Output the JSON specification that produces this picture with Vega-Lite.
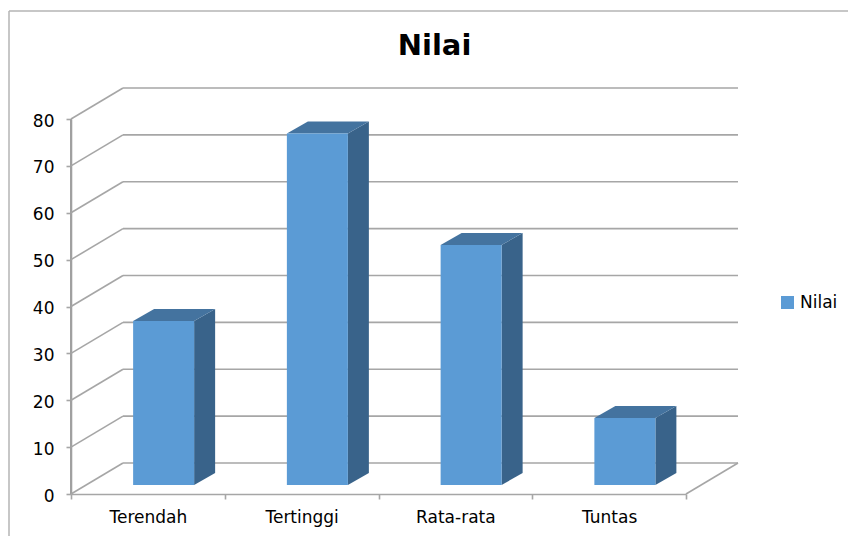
{
  "$schema": "https://vega.github.io/schema/vega-lite/v6.json",
  "width": 839,
  "height": 525,
  "padding": {"left": 9, "top": 11, "right": 0, "bottom": 0},
  "autosize": "none",
  "background": "white",
  "view": {"stroke": null},
  "title": {
    "text": "Nilai",
    "fontSize": 29,
    "fontWeight": "bold",
    "font": "DejaVu Sans",
    "color": "black",
    "anchor": "middle",
    "dx": 6,
    "offset": -51
  },
  "datasets": {
    "nilaiSiswa": [
      {"kategori": "Terendah", "nilai": 35},
      {"kategori": "Tertinggi", "nilai": 75},
      {"kategori": "Rata-rata", "nilai": 51.2},
      {"kategori": "Tuntas", "nilai": 14.3}
    ],
    "kisi": [
      {"nilai": 0}, {"nilai": 10}, {"nilai": 20}, {"nilai": 30}, {"nilai": 40},
      {"nilai": 50}, {"nilai": 60}, {"nilai": 70}, {"nilai": 80}
    ]
  },
  "resolve": {"scale": {"x": "independent"}},
  "layer": [
    {
      "layer": [
        {
          "data": {"values": [{}]},
          "mark": {"type": "rule", "color": "#b4b4b4", "strokeWidth": 1.5},
          "encoding": {"y": {"value": 0}}
        },
        {
          "data": {"values": [{}]},
          "mark": {"type": "rule", "color": "#b4b4b4", "strokeWidth": 1.5},
          "encoding": {"x": {"value": 0}}
        },
        {
          "description": "Back wall gridlines",
          "data": {"name": "kisi"},
          "mark": {"type": "rule", "color": "#a6a6a6", "strokeWidth": 1.6, "xOffset": 52, "x2Offset": 52, "yOffset": -31},
          "encoding": {
            "x": {"datum": 0, "type": "quantitative", "scale": {"domain": [0, 4], "range": [62, 677]}, "axis": null},
            "x2": {"datum": 4},
            "y": {"field": "nilai", "type": "quantitative", "scale": {"domain": [0, 80], "range": [483, 108]},
              "axis": {"title": null, "values": [0, 10, 20, 30, 40, 50, 60, 70, 80], "offset": -62, "grid": false, "domain": true,
                "domainColor": "#a6a6a6", "domainWidth": 1.6, "tickColor": "#a6a6a6", "tickWidth": 1.6, "tickSize": 5,
                "labelFont": "DejaVu Sans", "labelFontSize": 17, "labelColor": "black", "labelPadding": 12, "labelOffset": 2}}
          }
        },
        {
          "description": "Vertical axis line",
          "data": {"values": [{"bawah": 0, "atas": 80}]},
          "mark": {"type": "rule", "color": "#a0a0a0", "strokeWidth": 2},
          "encoding": {
            "x": {"datum": 0, "type": "quantitative"},
            "x2": {"datum": 0},
            "y": {"field": "bawah", "type": "quantitative"},
            "y2": {"field": "atas"}
          }
        },
        {
          "description": "Side wall gridlines running from the axis to the back wall",
          "data": {"name": "kisi"},
          "mark": {"type": "rule", "color": "#a6a6a6", "strokeWidth": 1.6, "x2Offset": 52, "y2Offset": -31},
          "encoding": {
            "x": {"datum": 0, "type": "quantitative"},
            "x2": {"datum": 0},
            "y": {"field": "nilai", "type": "quantitative"},
            "y2": {"field": "nilai"}
          }
        },
        {
          "description": "Right edge of the floor",
          "data": {"values": [{"nilai": 0}]},
          "mark": {"type": "rule", "color": "#a6a6a6", "strokeWidth": 1.6, "x2Offset": 52, "y2Offset": -31},
          "encoding": {
            "x": {"datum": 4, "type": "quantitative"},
            "x2": {"datum": 4},
            "y": {"field": "nilai", "type": "quantitative"},
            "y2": {"field": "nilai"}
          }
        },
        {
          "description": "Side face of each column, projected from its value",
          "data": {"name": "nilaiSiswa"},
          "transform": [
            {"window": [{"op": "row_number", "as": "urutan"}]},
            {"calculate": "[0, 1]", "as": "kedalaman"},
            {"flatten": ["kedalaman"]},
            {"calculate": "datum.urutan - 1 + 0.8008 + datum.kedalaman * 0.1366", "as": "xSisi"},
            {"calculate": "datum.nilai + 1.92 + datum.kedalaman * 2.56", "as": "atas"},
            {"calculate": "1.92 + datum.kedalaman * 2.56", "as": "bawah"}
          ],
          "mark": {"type": "area", "color": "#39638A", "orient": "vertical"},
          "encoding": {
            "x": {"field": "xSisi", "type": "quantitative"},
            "y": {"field": "atas", "type": "quantitative"},
            "y2": {"field": "bawah"},
            "detail": {"field": "kategori"}
          }
        },
        {
          "description": "Top face of each column, projected from its value",
          "data": {"name": "nilaiSiswa"},
          "transform": [
            {"window": [{"op": "row_number", "as": "urutan"}]},
            {"calculate": "[0, 1]", "as": "kedalaman"},
            {"flatten": ["kedalaman"]},
            {"calculate": "datum.urutan - 1 + 0.4041 + datum.kedalaman * 0.1366", "as": "kiri"},
            {"calculate": "datum.urutan - 1 + 0.8008 + datum.kedalaman * 0.1366", "as": "kanan"},
            {"calculate": "datum.nilai + 1.92 + datum.kedalaman * 2.56", "as": "atas"}
          ],
          "mark": {"type": "area", "color": "#44739F", "orient": "horizontal"},
          "encoding": {
            "y": {"field": "atas", "type": "quantitative"},
            "x": {"field": "kiri", "type": "quantitative"},
            "x2": {"field": "kanan"},
            "detail": {"field": "kategori"}
          }
        }
      ]
    },
    {
      "description": "Front face of each column",
      "data": {"name": "nilaiSiswa"},
      "mark": {"type": "bar", "width": 61, "xOffset": 15.75, "yOffset": -9, "y2Offset": -9},
      "encoding": {
        "x": {
          "field": "kategori", "type": "nominal", "sort": null,
          "scale": {"range": [62, 677], "paddingInner": 0, "paddingOuter": 0},
          "axis": {"title": null, "orient": "bottom", "tickBand": "extent", "labelAngle": 0, "offset": -42,
            "domainColor": "#a6a6a6", "domainWidth": 1.6, "tickColor": "#a6a6a6", "tickWidth": 1.6, "tickSize": 5,
            "labelFont": "DejaVu Sans", "labelFontSize": 17, "labelColor": "black", "labelPadding": 10}
        },
        "y": {"field": "nilai", "type": "quantitative"},
        "y2": {"datum": 0},
        "color": {
          "datum": "Nilai",
          "scale": {"range": ["#5B9BD5"]},
          "legend": {"title": null, "orient": "none", "legendX": 770, "legendY": 283, "symbolType": "square", "symbolSize": 170,
            "labelFont": "DejaVu Sans", "labelFontSize": 17, "labelColor": "black", "symbolStrokeWidth": 0}
        }
      }
    }
  ]
}
